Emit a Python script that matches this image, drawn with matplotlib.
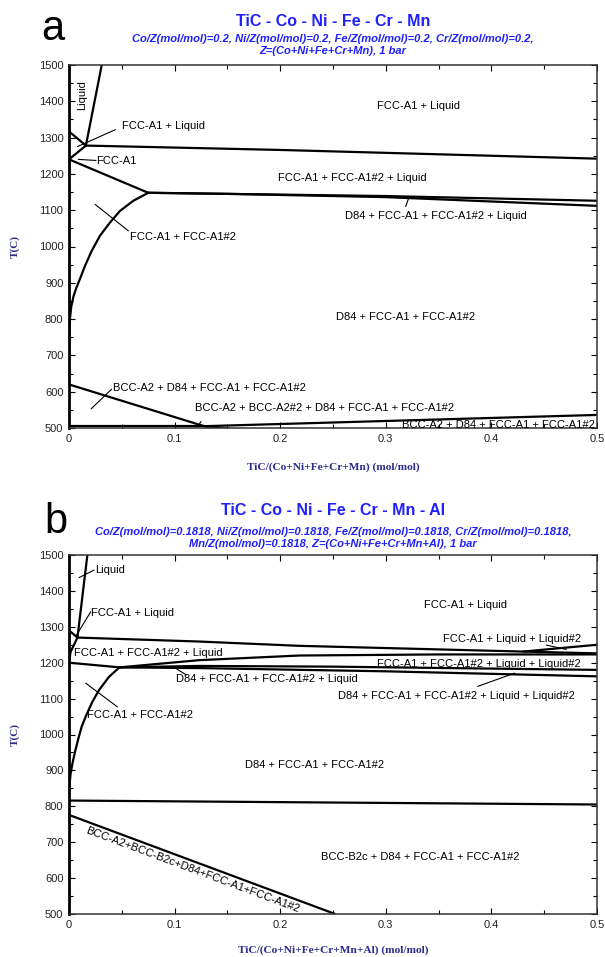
import numpy as np
import matplotlib.pyplot as plt

plt.rcParams['font.family'] = ['Liberation Sans', 'DejaVu Sans']

# ---------------- panel a : TiC - Co - Ni - Fe - Cr - Mn ----------------
a_liquidus_x = [0.016, 0.031]
a_liquidus_T = [1278, 1500]
a_left_top_x = [0.0, 0.016]
a_left_top_T = [1317, 1278]
a_left_low_x = [0.016, 0.0]
a_left_low_T = [1278, 1240]
a_solidus_x = [0.016, 0.2, 0.5]
a_solidus_T = [1278, 1266, 1242]
a_fcc_x = [0.0, 0.075]
a_fcc_T = [1240, 1148]
a_solvus_x = [0.0751, 0.0609, 0.0483, 0.0388, 0.0294, 0.0215, 0.0152, 0.0104,
              0.0068, 0.0042, 0.0022, 0.001, 0.0003, 0.0]
a_solvus_T = [1148, 1126, 1098, 1066, 1030, 988, 947, 911,
              885, 862, 835, 805, 760, 700]
a_d84_up_x = [0.075, 0.15, 0.3, 0.5]
a_d84_up_T = [1148, 1145, 1139, 1126]
a_d84_lo_x = [0.075, 0.15, 0.3, 0.5]
a_d84_lo_T = [1148, 1145, 1136, 1112]
a_bcc_x = [0.0, 0.128, 0.155]
a_bcc_T = [620, 505, 496]
a_h505_x = [0.0, 0.128]
a_h505_T = [505, 505]
a_rise_x = [0.128, 0.5]
a_rise_T = [505, 536]

# ---------------- panel b : TiC - Co - Ni - Fe - Cr - Mn - Al ----------------
b_liquidus_x = [0.008, 0.0174]
b_liquidus_T = [1270, 1500]
b_left_top_x = [0.0, 0.008]
b_left_top_T = [1290, 1270]
b_left_low_x = [0.008, 0.0015, 0.0]
b_left_low_T = [1270, 1230, 1200]
b_l0_x = [0.0, 0.048]
b_l0_T = [1200, 1187]
b_solvus_x = [0.0474, 0.038, 0.0285, 0.0221, 0.0164, 0.012, 0.0089, 0.0057,
              0.0033, 0.0015, 0.0005, 0.0]
b_solvus_T = [1186, 1161, 1124, 1091, 1054, 1022, 989, 952,
              920, 890, 860, 830]
b_l1_x = [0.008, 0.123, 0.218, 0.43, 0.5]
b_l1_T = [1270, 1259, 1247, 1231, 1226]
b_liq2_x = [0.43, 0.5]
b_liq2_T = [1231, 1250]
b_l2_x = [0.048, 0.123, 0.218, 0.35, 0.5]
b_l2_T = [1187, 1207, 1220, 1223, 1223]
b_l3_x = [0.048, 0.123, 0.25, 0.5]
b_l3_T = [1187, 1191, 1189, 1180]
b_l4_x = [0.048, 0.123, 0.3, 0.5]
b_l4_T = [1187, 1185, 1176, 1162]
b_h800_x = [0.0, 0.5]
b_h800_T = [816, 805]
b_bcc_x = [0.0, 0.252]
b_bcc_T = [776, 500]

x_ticks = [0, 0.1, 0.2, 0.3, 0.4, 0.5]
x_tick_labels = ['0', '0.1', '0.2', '0.3', '0.4', '0.5']
y_ticks = list(range(500, 1501, 100))

blue = '#1f1fff'
navy = '#2b2b8c'

fig = plt.figure(figsize=(6.05, 9.57), dpi=100)
ax1 = fig.add_axes([69 / 605, 1 - 428 / 957, 528 / 605, 363 / 957])
ax2 = fig.add_axes([69 / 605, 1 - 914 / 957, 528 / 605, 359 / 957])


def style_axes(ax, xlabel):
    ax.set_xlim(0, 0.5)
    ax.set_ylim(500, 1500)
    ax.set_xticks(x_ticks)
    ax.set_xticklabels(x_tick_labels)
    ax.set_xticks(np.arange(0.05, 0.5, 0.1), minor=True)
    ax.set_yticks(y_ticks)
    ax.set_yticks(np.arange(550, 1500, 100), minor=True)
    ax.tick_params(which='both', direction='in', top=True, right=True,
                   labelsize=8, labelcolor='#222222', width=0.8)
    ax.tick_params(which='major', length=4, pad=4)
    ax.tick_params(which='minor', length=3)
    for s in ax.spines.values():
        s.set_linewidth(1.1)
        s.set_color('#333333')
    ax.spines['left'].set_linewidth(2.0)
    ax.spines['left'].set_color('black')
    ax.set_xlabel(xlabel, fontsize=8.2, fontweight='bold', color=navy,
                  family='Liberation Serif', va='baseline')
    ax.set_ylabel('T(C)', fontsize=8, fontweight='bold', color=navy,
                  family='Liberation Serif', va='center')
    ax.yaxis.set_label_coords(-0.102, 0.5)


lw = 1.6
kw = dict(color='black', lw=lw, solid_capstyle='round', solid_joinstyle='round')
lead = dict(arrowstyle='-', lw=0.8, color='black', shrinkA=0, shrinkB=0)
fs = 8

# ---- panel a ----
for xs, ts in [(a_liquidus_x, a_liquidus_T), (a_left_top_x, a_left_top_T),
               (a_left_low_x, a_left_low_T), (a_solidus_x, a_solidus_T),
               (a_fcc_x, a_fcc_T), (a_solvus_x, a_solvus_T),
               (a_d84_up_x, a_d84_up_T), (a_d84_lo_x, a_d84_lo_T),
               (a_bcc_x, a_bcc_T), (a_h505_x, a_h505_T), (a_rise_x, a_rise_T)]:
    ax1.plot(xs, ts, **kw)
style_axes(ax1, 'TiC/(Co+Ni+Fe+Cr+Mn) (mol/mol)')
ax1.xaxis.set_label_coords(0.5, -0.115)

ax1.text(0.012, 1418, 'Liquid', rotation=90, ha='center', va='center', fontsize=fs)
ax1.text(0.05, 1331, 'FCC-A1 + Liquid', ha='left', va='center', fontsize=fs)
ax1.annotate('', xy=(0.0079, 1275), xytext=(0.044, 1322), arrowprops=lead)
ax1.text(0.026, 1236, 'FCC-A1', ha='left', va='center', fontsize=fs)
ax1.annotate('', xy=(0.0088, 1240), xytext=(0.0256, 1237), arrowprops=lead)
ax1.text(0.058, 1025, 'FCC-A1 + FCC-A1#2', ha='left', va='center', fontsize=fs)
ax1.annotate('', xy=(0.0247, 1116), xytext=(0.0563, 1043), arrowprops=lead)
ax1.text(0.331, 1386, 'FCC-A1 + Liquid', ha='center', va='center', fontsize=fs)
ax1.text(0.268, 1190, 'FCC-A1 + FCC-A1#2 + Liquid', ha='center', va='center', fontsize=fs)
ax1.text(0.347, 1083, 'D84 + FCC-A1 + FCC-A1#2 + Liquid', ha='center', va='center', fontsize=fs)
ax1.annotate('', xy=(0.322, 1136), xytext=(0.3188, 1110), arrowprops=lead)
ax1.text(0.319, 805, 'D84 + FCC-A1 + FCC-A1#2', ha='center', va='center', fontsize=fs)
ax1.text(0.042, 610, 'BCC-A2 + D84 + FCC-A1 + FCC-A1#2', ha='left', va='center', fontsize=fs)
ax1.annotate('', xy=(0.021, 553), xytext=(0.0404, 607), arrowprops=lead)
ax1.text(0.119, 555, 'BCC-A2 + BCC-A2#2 + D84 + FCC-A1 + FCC-A1#2', ha='left', va='center', fontsize=fs)
ax1.annotate('', xy=(0.122, 504), xytext=(0.125, 518), arrowprops=lead)
ax1.text(0.498, 508, 'BCC-A2 + D84 + FCC-A1 + FCC-A1#2', ha='right', va='center', fontsize=fs)

# ---- panel b ----
for xs, ts in [(b_liquidus_x, b_liquidus_T), (b_left_top_x, b_left_top_T),
               (b_left_low_x, b_left_low_T), (b_l0_x, b_l0_T),
               (b_solvus_x, b_solvus_T), (b_l1_x, b_l1_T), (b_liq2_x, b_liq2_T),
               (b_l2_x, b_l2_T), (b_l3_x, b_l3_T), (b_l4_x, b_l4_T),
               (b_h800_x, b_h800_T), (b_bcc_x, b_bcc_T)]:
    ax2.plot(xs, ts, **kw)
style_axes(ax2, 'TiC/(Co+Ni+Fe+Cr+Mn+Al) (mol/mol)')
ax2.xaxis.set_label_coords(0.5, -0.109)

ax2.text(0.025, 1458, 'Liquid', ha='left', va='center', fontsize=fs)
ax2.annotate('', xy=(0.0095, 1437), xytext=(0.0237, 1458), arrowprops=lead)
ax2.text(0.0206, 1338, 'FCC-A1 + Liquid', ha='left', va='center', fontsize=fs)
ax2.annotate('', xy=(0.0063, 1273), xytext=(0.0206, 1342), arrowprops=lead)
ax2.text(0.005, 1228, 'FCC-A1 + FCC-A1#2 + Liquid', ha='left', va='center', fontsize=fs)
ax2.text(0.101, 1154, 'D84 + FCC-A1 + FCC-A1#2 + Liquid', ha='left', va='center', fontsize=fs)
ax2.annotate('', xy=(0.0996, 1187), xytext=(0.111, 1166), arrowprops=lead)
ax2.text(0.0174, 1054, 'FCC-A1 + FCC-A1#2', ha='left', va='center', fontsize=fs)
ax2.annotate('', xy=(0.0158, 1143), xytext=(0.0458, 1077), arrowprops=lead)
ax2.text(0.375, 1361, 'FCC-A1 + Liquid', ha='center', va='center', fontsize=fs)
ax2.text(0.485, 1265, 'FCC-A1 + Liquid + Liquid#2', ha='right', va='center', fontsize=fs)
ax2.annotate('', xy=(0.471, 1237), xytext=(0.452, 1249), arrowprops=lead)
ax2.text(0.485, 1196, 'FCC-A1 + FCC-A1#2 + Liquid + Liquid#2', ha='right', va='center', fontsize=fs)
ax2.text(0.479, 1107, 'D84 + FCC-A1 + FCC-A1#2 + Liquid + Liquid#2', ha='right', va='center', fontsize=fs)
ax2.annotate('', xy=(0.422, 1171), xytext=(0.387, 1134), arrowprops=lead)
ax2.text(0.233, 916, 'D84 + FCC-A1 + FCC-A1#2', ha='center', va='center', fontsize=fs)
ax2.text(0.333, 659, 'BCC-B2c + D84 + FCC-A1 + FCC-A1#2', ha='center', va='center', fontsize=fs)
ax2.text(0.117, 622, 'BCC-A2+BCC-B2c+D84+FCC-A1+FCC-A1#2', rotation=-20.5,
         rotation_mode='anchor', ha='center', va='center', fontsize=fs)

# ---- titles and panel letters ----
cx = (69 + 528 / 2) / 605
sub = dict(color=blue, fontsize=8, fontweight='bold', style='italic', ha='center', va='baseline')
fig.text(0.068, 1 - 40 / 957, 'a', fontsize=30, va='baseline', ha='left')
fig.text(cx, 1 - 26 / 957, 'TiC - Co - Ni - Fe - Cr - Mn', color=blue,
         fontsize=11.5, fontweight='bold', ha='center', va='baseline')
fig.text(cx, 1 - 42 / 957, 'Co/Z(mol/mol)=0.2, Ni/Z(mol/mol)=0.2, Fe/Z(mol/mol)=0.2, Cr/Z(mol/mol)=0.2,', **sub)
fig.text(cx, 1 - 54 / 957, 'Z=(Co+Ni+Fe+Cr+Mn), 1 bar', **sub)

fig.text(0.074, 1 - 533 / 957, 'b', fontsize=30, va='baseline', ha='left')
fig.text(cx, 1 - 515 / 957, 'TiC - Co - Ni - Fe - Cr - Mn - Al', color=blue,
         fontsize=11.5, fontweight='bold', ha='center', va='baseline')
fig.text(cx, 1 - 535 / 957, 'Co/Z(mol/mol)=0.1818, Ni/Z(mol/mol)=0.1818, Fe/Z(mol/mol)=0.1818, Cr/Z(mol/mol)=0.1818,', **sub)
fig.text(cx, 1 - 547 / 957, 'Mn/Z(mol/mol)=0.1818, Z=(Co+Ni+Fe+Cr+Mn+Al), 1 bar', **sub)

fig.savefig('out.png', dpi=100)
